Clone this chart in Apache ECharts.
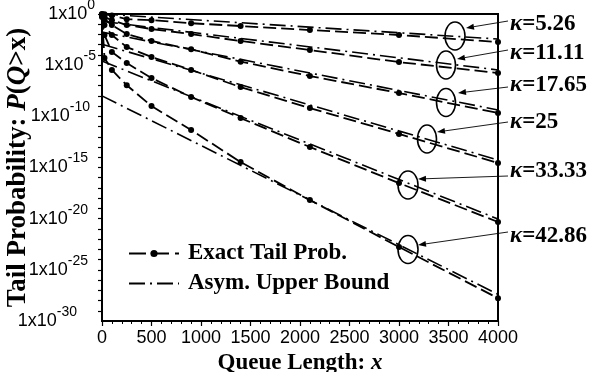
<!DOCTYPE html>
<html>
<head>
<meta charset="utf-8">
<script src="https://cdn.jsdelivr.net/npm/echarts@6/dist/echarts.min.js"></script>
<style>
html,body{margin:0;padding:0;background:#fff;}
#chart{width:590px;height:372px;}
</style>
</head>
<body>
<div id="chart"></div>
<script>
// ---- data ----
const xExact = [0, 25, 100, 250, 500, 900, 1400, 2100, 3000, 4000];
const exact526  = [1, 0.95, 0.71, 0.31, 0.25, 0.125, 0.067, 0.027, 8.9e-3, 1.8e-3];
const exact1111 = [0.9, 0.5, 0.25, 8.3e-2, 3.4e-2, 1.1e-2, 2.3e-3, 3.0e-4, 2.0e-5, 1.7e-6];
const exact1765 = [0.9, 0.32, 8.3e-2, 1.1e-2, 2.3e-3, 3.6e-4, 2.2e-5, 8.7e-7, 1.9e-8, 2.1e-10];
const exact25   = [0.8, 8.3e-2, 8.9e-3, 5.9e-4, 6.3e-5, 3.4e-6, 7.2e-8, 6.5e-10, 1.9e-12, 2.8e-15];
const exact3333 = [0.63, 9e-3, 1.9e-4, 1.6e-5, 5.5e-7, 7.8e-9, 6.8e-11, 1e-13, 3e-17, 4.7e-21];
const exact4286 = [0.5, 5e-5, 3.4e-6, 1.1e-7, 1e-9, 4.6e-12, 3.4e-15, 6.6e-19, 1.7e-23, 1.7e-28];

const xAsym = [0, 4000];
const asym526  = [1, 3.6e-3];
const asym1111 = [0.19, 3.4e-6];
const asym1765 = [1.7e-2, 4.2e-10];
const asym25   = [1.1e-3, 5.5e-15];
const asym3333 = [2.5e-5, 9.3e-21];
const asym4286 = [1e-8, 4e-28];

const kappaLabels = ['5.26', '11.11', '17.65', '25', '33.33', '42.86'];
const xTicks = [0, 500, 1000, 1500, 2000, 2500, 3000, 3500, 4000];
const yLabelExponents = [0, -5, -10, -15, -20, -25, -30];
const legendNames = ['Exact Tail Prob.', 'Asym. Upper Bound'];

// ---- build ----
const exactSets = [exact526, exact1111, exact1765, exact25, exact3333, exact4286];
const asymSets = [asym526, asym1111, asym1765, asym25, asym3333, asym4286];
const zip = (xs, ys) => xs.map((x, i) => [x, ys[i]]);

const series = [];
exactSets.forEach((ys) => {
  series.push({
    name: legendNames[0], type: 'line', data: zip(xExact, ys),
    symbol: 'circle', symbolSize: 6, showSymbol: true, z: 3,
    itemStyle: { color: '#000' },
    lineStyle: { color: '#000', width: 1.8, type: [13, 5] },
    silent: true, animation: false
  });
});
asymSets.forEach((ys) => {
  series.push({
    name: legendNames[1], type: 'line', data: zip(xAsym, ys),
    symbol: 'none', z: 2,
    itemStyle: { color: '#000' },
    lineStyle: { color: '#000', width: 1.6, type: [16, 5, 2, 5] },
    silent: true, animation: false
  });
});

const serif = 'Liberation Serif, Times New Roman, serif';
const sans = 'Liberation Sans, Arial, sans-serif';

// annotations (pixel positions of ellipses / arrows / labels)
const ellipses = [[455, 36, 10, 14], [446, 65, 9.5, 14], [446, 102.5, 9.5, 14], [427, 139, 9.5, 14], [408, 185, 10, 14], [408, 249.5, 10, 14]];
const arrows = [[508, 21, 466, 28], [508, 50, 457, 59], [508, 87, 458, 93], [508, 122, 437, 132], [508, 176, 418, 179], [508, 232, 418, 245]];
const labelY = [24, 53.5, 85, 122.5, 171.5, 236.5];

// per-label right padding so that the tick labels sit like the reference
const supPad = { '0': 1, '-5': 0, '-10': 6, '-15': 8, '-20': 8, '-25': 8, '-30': 19 };
const yRich = { b: { fontFamily: sans, fontSize: 18, lineHeight: 26, color: '#000' } };
yLabelExponents.forEach(e => {
  yRich['s' + Math.abs(e)] = { fontFamily: sans, fontSize: 14, lineHeight: 14, verticalAlign: 'top', color: '#000', padding: [-3, supPad[String(e)], 0, 0] };
});

const graphics = [];
ellipses.forEach(e => graphics.push({
  type: 'ellipse', shape: { cx: e[0], cy: e[1], rx: e[2], ry: e[3] },
  style: { fill: null, stroke: '#000', lineWidth: 1.6 }, z: 10
}));
arrows.forEach(a => {
  const [x1, y1, x2, y2] = a;
  const dx = x2 - x1, dy = y2 - y1, len = Math.hypot(dx, dy);
  const ux = dx / len, uy = dy / len;
  const hl = 8, hw = 3;
  const bx = x2 - ux * hl, by = y2 - uy * hl;
  graphics.push({ type: 'line', shape: { x1, y1, x2: bx, y2: by }, style: { stroke: '#000', lineWidth: 0.9 }, z: 10 });
  graphics.push({ type: 'polygon', shape: { points: [[x2, y2], [bx - uy * hw, by + ux * hw], [bx + uy * hw, by - ux * hw]] }, style: { fill: '#000' }, z: 10 });
});
kappaLabels.forEach((k, i) => graphics.push({
  type: 'text', x: 510, y: labelY[i], z: 10,
  style: {
    text: '{k|κ}{n|=' + k + '}', verticalAlign: 'middle', align: 'left',
    rich: {
      k: { fontFamily: serif, fontSize: 23, fontWeight: 'bold', fontStyle: 'italic', fill: '#000' },
      n: { fontFamily: serif, fontSize: 23, fontWeight: 'bold', fill: '#000' }
    }
  }
}));

const chart = echarts.init(document.getElementById('chart'), null, { renderer: 'canvas' });
chart.setOption({
  animation: false,
  backgroundColor: '#fff',
  grid: { left: 102, right: 92, top: 14, bottom: 51, containLabel: false, outerBoundsMode: 'none',
    show: true, borderColor: '#000', borderWidth: 2, backgroundColor: 'transparent' },
  legend: {
    data: [
      { name: legendNames[0], lineStyle: { type: [17, 6] } },
      { name: legendNames[1], itemStyle: { opacity: 0 } }
    ],
    orient: 'vertical', left: 123, top: 237, padding: 5,
    itemWidth: 50, itemHeight: 9, itemGap: 7,
    textStyle: { fontFamily: serif, fontWeight: 'bold', fontSize: 23, color: '#000', padding: [0, 0, 0, 4] },
    selectedMode: false
  },
  xAxis: {
    type: 'value', min: 0, max: 4000, interval: 500,
    name: 'Queue Length: {i|x}', nameLocation: 'middle', nameGap: 23,
    nameTextStyle: { fontFamily: serif, fontWeight: 'bold', fontSize: 23, color: '#000',
      rich: { i: { fontFamily: serif, fontWeight: 'bold', fontStyle: 'italic', fontSize: 23, color: '#000' } } },
    axisLine: { show: true, lineStyle: { color: '#000', width: 2 } },
    axisTick: { show: true, inside: false, length: 5, lineStyle: { color: '#000', width: 1.2 } },
    minorTick: { show: true, splitNumber: 5, length: 3, lineStyle: { color: '#000', width: 1 } },
    splitLine: { show: false },
    axisLabel: { fontFamily: sans, fontSize: 18, color: '#000', margin: 8, hideOverlap: false,
      formatter: v => xTicks.indexOf(v) >= 0 ? String(v) : '' }
  },
  yAxis: {
    type: 'log', logBase: 10, min: 1e-30, max: 1, interval: 1, splitNumber: 30,
    name: 'Tail Probability: {i|P}({i|Q}>x)', nameLocation: 'middle', nameGap: 70, nameRotate: 90,
    nameMoveOverlap: false,
    nameTextStyle: { fontFamily: serif, fontWeight: 'bold', fontSize: 27, color: '#000',
      rich: { i: { fontFamily: serif, fontWeight: 'bold', fontStyle: 'italic', fontSize: 27, color: '#000' } } },
    axisLine: { show: true, lineStyle: { color: '#000', width: 2 } },
    axisTick: { show: true, inside: false, length: 4, lineStyle: { color: '#000', width: 1.2 } },
    splitLine: { show: false },
    axisLabel: {
      fontFamily: sans, fontSize: 18, color: '#000', margin: 6, showMinLabel: true, showMaxLabel: true,
      hideOverlap: false, interval: 0,
      formatter: v => {
        const e = Math.round(Math.log10(v));
        if (yLabelExponents.indexOf(e) < 0) return '';
        return '{b|1x10}{s' + Math.abs(e) + '|' + e + '}';
      },
      rich: yRich
    }
  },
  graphic: graphics,
  series: series
});

// The bottom (min) tick label of the log axis is suppressed by the library at the
// axis corner; place it at the pixel of the axis minimum computed by the axis itself.
const minExp = yLabelExponents[yLabelExponents.length - 1];
const pMin = chart.convertToPixel({ gridIndex: 0 }, [0, Math.pow(10, minExp)]);
chart.setOption({
  graphic: graphics.concat([{
    type: 'text', x: pMin[0] - 25, y: pMin[1], z: 10,
    style: {
      text: '{b|1x10}{s|' + minExp + '}', align: 'right', verticalAlign: 'middle',
      rich: {
        b: { fontFamily: sans, fontSize: 18, lineHeight: 26, fill: '#000' },
        s: { fontFamily: sans, fontSize: 14, lineHeight: 14, verticalAlign: 'top', fill: '#000', padding: [-3, 0, 0, 0] }
      }
    }
  }])
});
</script>
</body>
</html>
